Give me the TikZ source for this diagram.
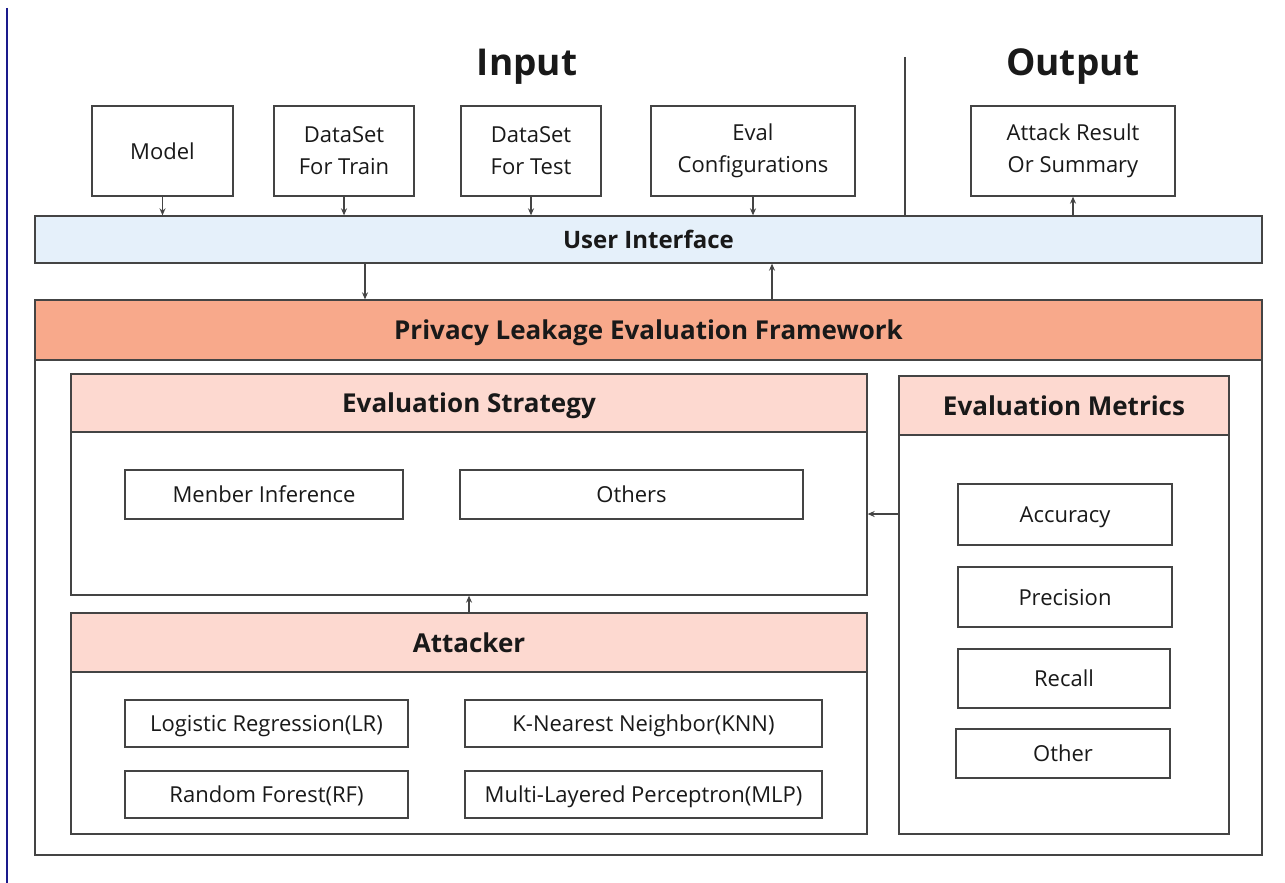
\documentclass[tikz,border=0pt]{standalone}
\usepackage{fontspec}
\setmainfont{Open Sans}
\usetikzlibrary{arrows.meta,calc}
\definecolor{lc}{HTML}{444444}
\definecolor{uifill}{HTML}{E5F0FA}
\definecolor{fwfill}{HTML}{F8A98B}
\definecolor{hdfill}{HTML}{FDD9D0}
\definecolor{navyline}{HTML}{1A1A8C}
\tikzset{
  x=1pt,y=-1pt,
  box/.style={draw=lc,line width=1.3pt,inner sep=0pt,align=center,
    font=\fontsize{22}{32}\selectfont,text=black!90},
  one/.style={text height=16pt,text depth=0pt},
  hdr/.style={box,font=\fontsize{26}{30}\selectfont\bfseries,text height=19pt,text depth=0pt},
  frame/.style={draw=lc,line width=1.3pt,inner sep=0pt},
  arr/.style={draw=lc,line width=1.2pt,-{Stealth[length=7pt,width=6pt]}},
  ttl/.style={font=\fontsize{37}{44}\selectfont\bfseries,text=black!90}
}
\begin{document}
\begin{tikzpicture}
\useasboundingbox (0,0) rectangle (1285,883);
\fill[white] (0,0) rectangle (1285,883);
% left margin line
\coordinate (nl1) at (7,8);
\coordinate (nl2) at (7,883);
\draw[navyline,line width=1.6pt] (nl1) -- (nl2);
% titles
\node[ttl] (tin) at (527,67) {Input};
\node[ttl] (tout) at (1073,67) {Output};
% input boxes
\node[box,one,minimum width=141,minimum height=90] (model) at (162.5,151) {Model};
\node[box,minimum width=140,minimum height=90] (train) at (344,151) {DataSet\\For Train};
\node[box,minimum width=140,minimum height=90] (test) at (531,151) {DataSet\\For Test};
\node[box,minimum width=204,minimum height=90] (eval) at (753,151) {Eval\\Configurations};
\node[box,minimum width=204,minimum height=90] (out) at (1073,151) {Attack Result\\Or Summary};
% user interface
\node[box,fill=uifill,minimum width=1227,minimum height=47,font=\fontsize{24}{28}\selectfont\bfseries,text height=17.5pt,text depth=0pt] (ui) at (648.5,239.5) {User Interface};
% divider
\coordinate (div) at (905,57);
\draw[lc,line width=1.3pt] (div) -- (div |- ui.north);
% input arrows
\draw[arr] (model.south) -- (model.south |- ui.north);
\draw[arr] (train.south) -- (train.south |- ui.north);
\draw[arr] (test.south) -- (test.south |- ui.north);
\draw[arr] (eval.south) -- (eval.south |- ui.north);
\draw[arr] (ui.north -| out.south) -- (out.south);
% framework
\node[frame,minimum width=1227,minimum height=555] (fw) at (648.5,577.5) {};
\node[hdr,fill=fwfill,minimum width=1227,minimum height=60] (fwh) at (648.5,330) {Privacy Leakage Evaluation Framework};
\coordinate (a1) at (365,0);
\coordinate (a2) at (772,0);
\draw[arr] (ui.south -| a1) -- (fwh.north -| a1);
\draw[arr] (fwh.north -| a2) -- (ui.south -| a2);
% evaluation strategy
\node[frame,minimum width=796,minimum height=221] (es) at (469,484.5) {};
\node[hdr,fill=hdfill,minimum width=796,minimum height=58] (esh) at (469,403) {Evaluation Strategy};
\node[box,one,minimum width=278,minimum height=49] (mi) at (264,494.5) {Menber Inference};
\node[box,one,minimum width=343,minimum height=49] (oth) at (631.5,494.5) {Others};
% attacker
\node[frame,minimum width=796,minimum height=221] (att) at (469,723.5) {};
\node[hdr,fill=hdfill,minimum width=796,minimum height=59] (atth) at (469,642.5) {Attacker};
\node[box,one,minimum width=283,minimum height=47] (lr) at (266.5,723.5) {Logistic Regression(LR)};
\node[box,one,minimum width=357,minimum height=47] (knn) at (643.5,723.5) {K-Nearest Neighbor(KNN)};
\node[box,one,minimum width=283,minimum height=47] (rf) at (266.5,794.5) {Random Forest(RF)};
\node[box,one,minimum width=357,minimum height=47] (mlp) at (643.5,794.5) {Multi-Layered Perceptron(MLP)};
\draw[arr] (atth.north) -- (es.south);
% metrics
\node[frame,minimum width=330,minimum height=458] (em) at (1064,605) {};
\node[hdr,fill=hdfill,minimum width=330,minimum height=59] (emh) at (1064,405.5) {Evaluation Metrics};
\node[box,one,minimum width=214,minimum height=61] (acc) at (1065,514.5) {Accuracy};
\node[box,one,minimum width=214,minimum height=60] (prec) at (1065,597) {Precision};
\node[box,one,minimum width=212,minimum height=59] (rec) at (1064,678.5) {Recall};
\node[box,one,minimum width=214,minimum height=49] (oth2) at (1063,753.5) {Other};
\coordinate (a3) at (0,514);
\draw[arr] (em.west |- a3) -- (es.east |- a3);
\end{tikzpicture}
\end{document}
